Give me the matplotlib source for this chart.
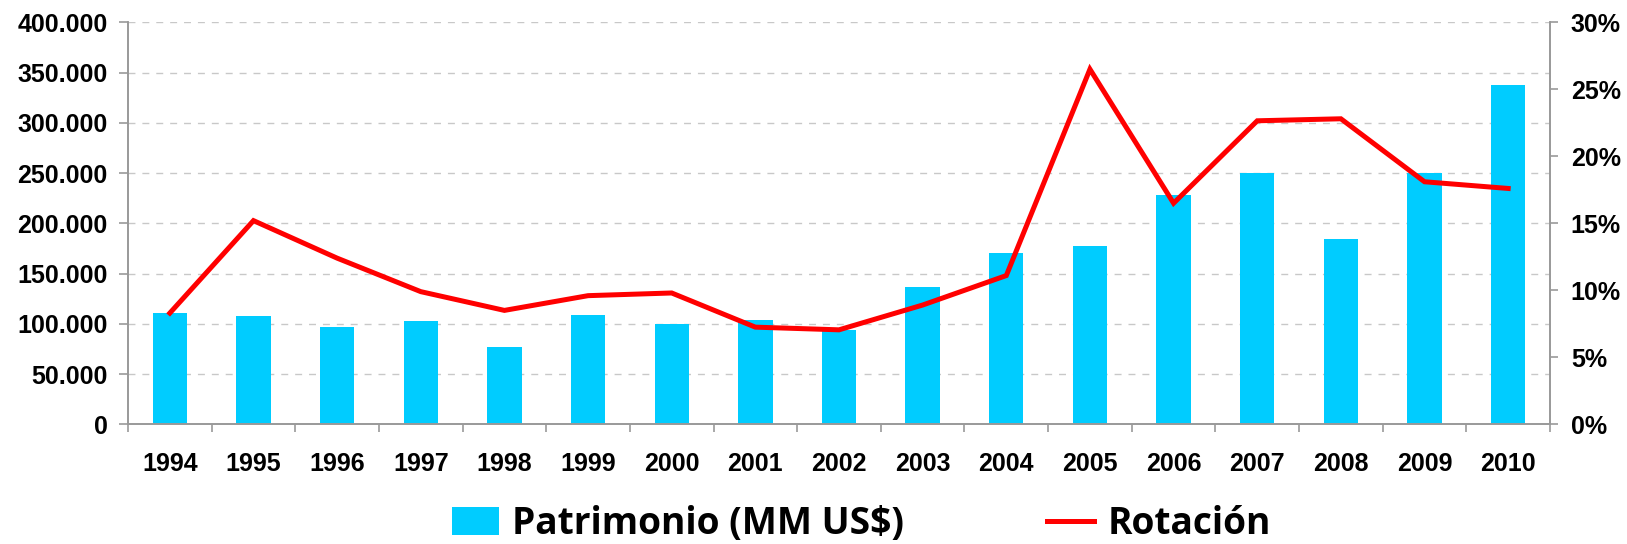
import numpy as np
import matplotlib
matplotlib.use('Agg')
import matplotlib.pyplot as plt
from matplotlib.patches import Patch
from matplotlib.lines import Line2D
from matplotlib.ticker import FuncFormatter, MultipleLocator

years = ['1994', '1995', '1996', '1997', '1998', '1999', '2000', '2001', '2002',
         '2003', '2004', '2005', '2006', '2007', '2008', '2009', '2010']
patrimonio = [110400, 107800, 96500, 102800, 76900, 108800, 99800, 103800, 93800,
              136600, 170500, 177400, 228200, 250000, 184400, 250000, 337600]
rotacion = [8.3, 15.2, 12.4, 9.9, 8.5, 9.6, 9.8, 7.25, 7.05,
            8.9, 11.1, 26.5, 16.5, 22.65, 22.8, 18.1, 17.6]

BAR_COLOR = '#00ccff'
LINE_COLOR = '#ff0000'
AXIS_GREY = '#999999'
ARIAL = ['Liberation Sans', 'DejaVu Sans']

fig = plt.figure(figsize=(16.27, 5.44), dpi=100)
ax = fig.add_axes([128 / 1627, 1 - 424.3 / 544, (1550 - 128) / 1627, 402 / 544])
ax2 = ax.twinx()

x = np.arange(len(years))
ax.bar(x, patrimonio, width=0.41, color=BAR_COLOR, zorder=2)
ax2.plot(x, rotacion, color=LINE_COLOR, linewidth=3.6, solid_joinstyle='miter', zorder=3)

ax.set_xlim(-0.5, len(years) - 0.5)
ax.set_ylim(0, 400000)
ax2.set_ylim(0, 30)

ax.yaxis.set_major_locator(MultipleLocator(50000))
ax.yaxis.set_major_formatter(FuncFormatter(lambda v, p: f'{int(v):,}'.replace(',', '.')))
ax2.yaxis.set_major_locator(MultipleLocator(5))
ax2.yaxis.set_major_formatter(FuncFormatter(lambda v, p: f'{int(v)}%'))

ax.grid(axis='y', linestyle=(0, (5, 5)), color='#c8c8c8', linewidth=1, zorder=0)
ax.set_axisbelow(True)

# category labels on majors, tick marks at category boundaries
ax.set_xticks(x)
ax.set_xticklabels(years)
ax.set_xticks(np.arange(-0.5, len(years)), minor=True)
ax.tick_params(axis='x', which='major', length=0, pad=20)
ax.tick_params(axis='x', which='minor', length=5.5, color=AXIS_GREY, width=1.2)
ax.tick_params(axis='y', length=6.5, color=AXIS_GREY, width=1.2, pad=8)
ax2.tick_params(axis='y', length=6, color=AXIS_GREY, width=1.2, pad=9)

for lab in ax.get_xticklabels():
    lab.set_fontfamily(ARIAL)
    lab.set_fontweight('bold')
    lab.set_fontsize(18)
for lab in ax.get_yticklabels() + ax2.get_yticklabels():
    lab.set_fontfamily(ARIAL)
    lab.set_fontweight('bold')
    lab.set_fontsize(18)

for a in (ax, ax2):
    a.spines['top'].set_visible(False)
    for s in ('left', 'right', 'bottom'):
        a.spines[s].set_color(AXIS_GREY)
        a.spines[s].set_linewidth(1.2)

handles = [Patch(facecolor=BAR_COLOR, edgecolor='none'),
           Line2D([0], [0], color=LINE_COLOR, linewidth=3.6)]
fig.legend(handles, ['Patrimonio (MM US$)', 'Rotación'],
           loc='center left', bbox_to_anchor=(452 / 1627, 1 - 524 / 544), ncol=2,
           frameon=False, borderpad=0, borderaxespad=0,
           handlelength=1.27, handleheight=0.76, handletextpad=0.35,
           columnspacing=3.86,
           prop={'family': ['Open Sans', 'DejaVu Sans'], 'weight': 'bold', 'size': 26.7})

fig.savefig('out.png', dpi=100)
